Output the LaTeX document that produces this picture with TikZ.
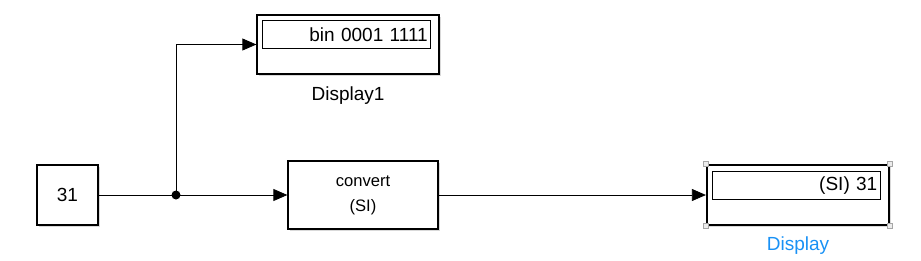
\documentclass[tikz,border=0pt]{standalone}
\usepackage{fontspec}
\setmainfont{Liberation Sans}
\usetikzlibrary{arrows.meta,positioning,shadows}
\definecolor{nameblue}{RGB}{25,145,245}
\newcommand{\bigfont}{\fontsize{19}{22}\selectfont}
\newcommand{\smallfont}{\fontsize{16.6}{25}\selectfont}

\tikzset{
  block/.style={draw, line width=1.3pt, fill=white, inner sep=0pt,
    drop shadow={shadow xshift=2pt, shadow yshift=-2pt, opacity=0.3}},
  readout/.style={draw, line width=0.8pt, inner sep=3pt, minimum height=28pt,
    text width=162pt, align=right, anchor=north west, font=\bigfont},
  handle/.style={draw=gray!70, fill=gray!15, line width=0.6pt,
    minimum size=5pt, inner sep=0pt},
  signal/.style={line width=0.8pt, -{Triangle[length=14pt,width=12pt]}}
}

\begin{document}
\begin{tikzpicture}[x=1pt, y=-1pt]
  \useasboundingbox (0,0) rectangle (921,260);
  \node[block, minimum width=61pt, minimum height=60pt, font=\bigfont]
    (const) at (67.5,195) {31};
  \node[block, minimum width=150pt, minimum height=68pt, align=center,
    font=\smallfont] (conv) at (363,195) {convert\\(SI)};
  \node[block, minimum width=182pt, minimum height=59pt] (disp1) at (348,44.5) {};
  \node[readout] (disp1val) at ([shift={(6,6)}]disp1.north west) {bin 0001 1111};
  \node[below=12pt of disp1, inner sep=0pt, font=\bigfont] (disp1name) {Display1};
  \node[block, line width=2.2pt, minimum width=182pt, minimum height=60pt]
    (disp) at (798,195) {};
  \node[readout] (dispval) at ([shift={(6,7)}]disp.north west) {(SI) 31};
  \node[below=10pt of disp, inner sep=0pt, font=\bigfont, text=nameblue]
    (dispname) {Display};
  \foreach \c in {north west, north east, south west, south east}
    \node[handle] at (disp.\c) {};

  \coordinate (split) at (176,195);
  \draw[line width=0.8pt] (const.east) -- (split);
  \fill (split) circle (4.5pt);
  \draw[signal] (split) -- (conv.west);
  \draw[signal] (split) |- (disp1.west);
  \draw[signal] (conv.east) -- (disp.west);
\end{tikzpicture}
\end{document}
